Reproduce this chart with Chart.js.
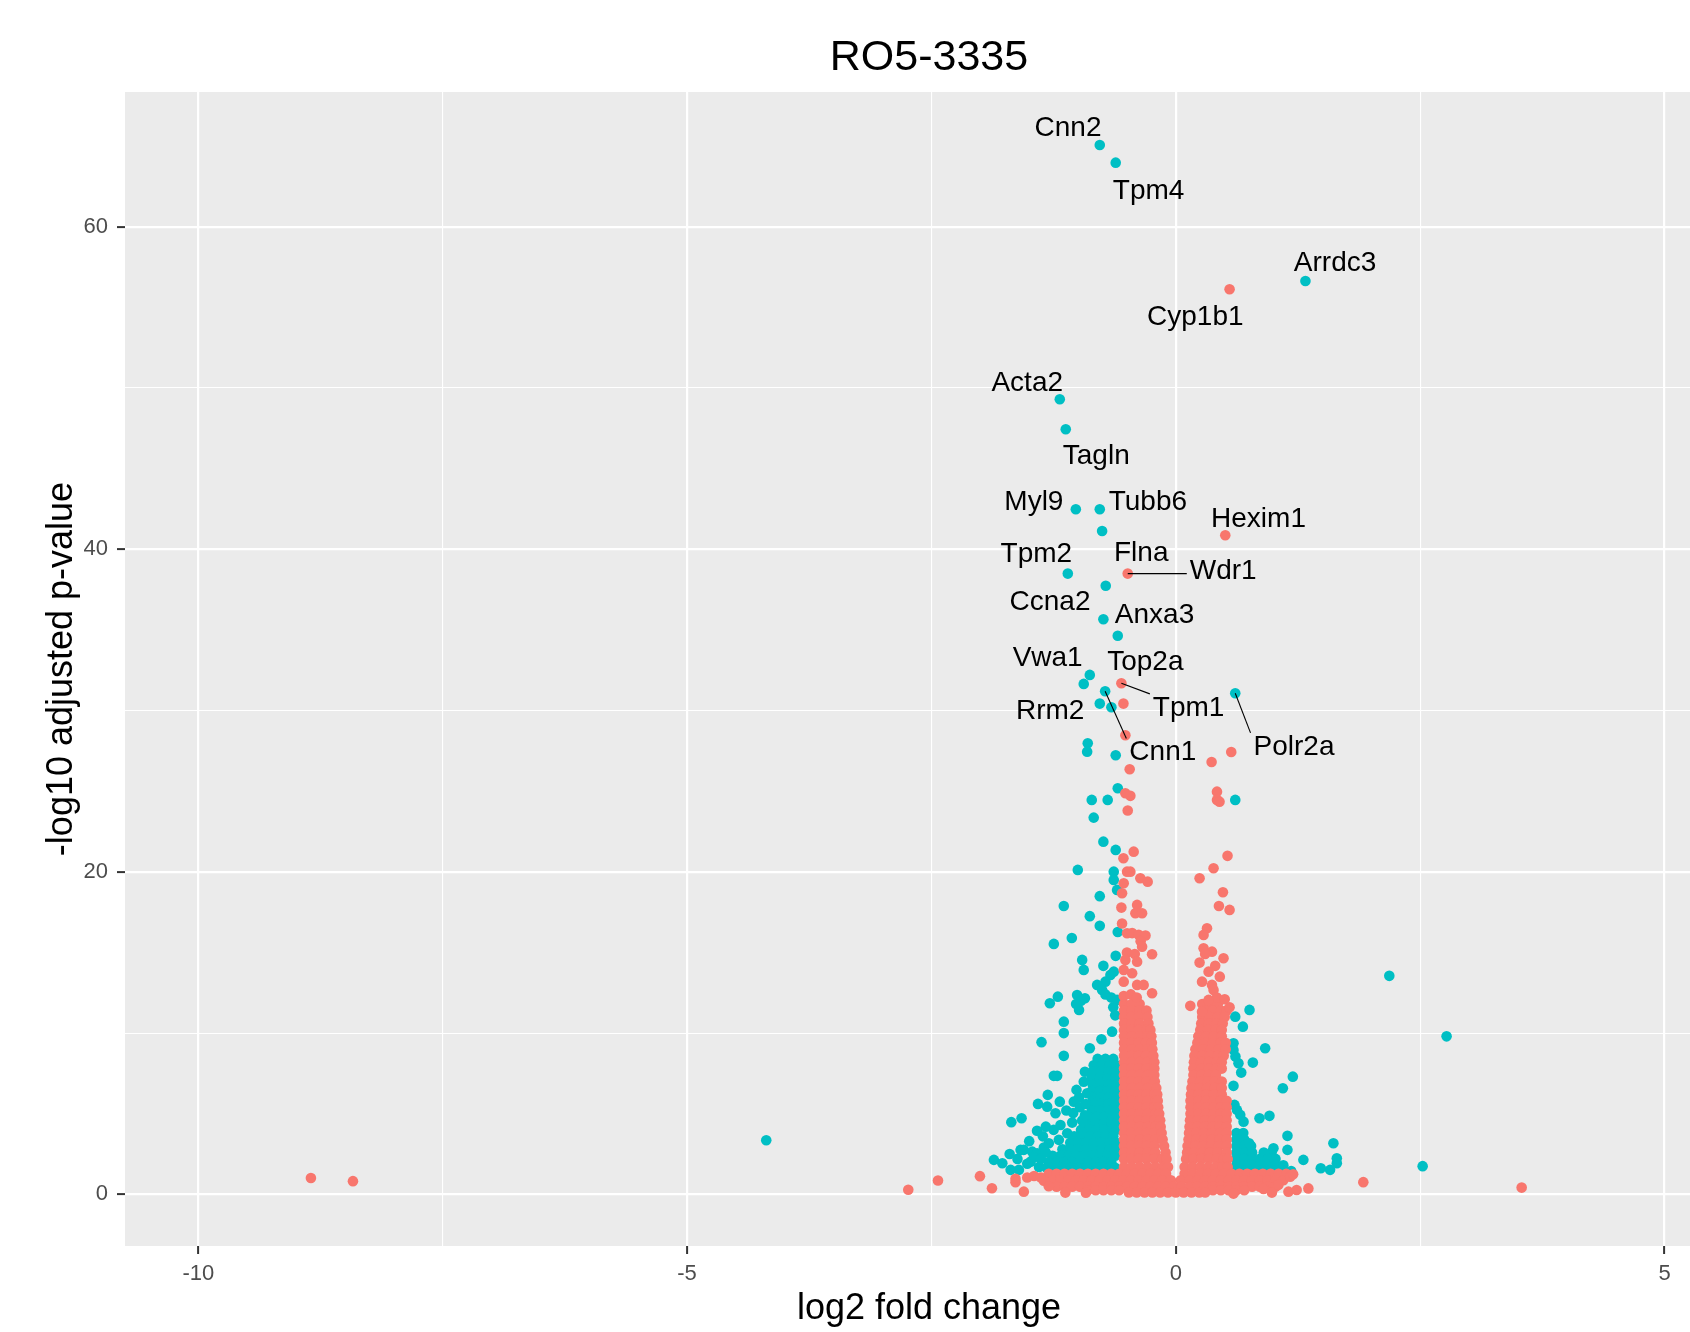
<!DOCTYPE html>
<html>
<head>
<meta charset="utf-8">
<title>RO5-3335</title>
<script src="https://cdn.jsdelivr.net/npm/chart.js@4.4.1/dist/chart.umd.min.js"></script>
<style>
  html, body { margin: 0; padding: 0; background: #ffffff; }
  #wrap { width: 1690px; height: 1332px; overflow: hidden; position: relative; }
  #volcano { display: block; }
</style>
</head>
<body>
<div id="wrap"><canvas id="volcano" width="1745" height="1332"></canvas></div>
<script>
// labelled genes: point (log2 fold change, -log10 padj) and where the text sits
const geneNames = ['Cnn2', 'Tpm4', 'Arrdc3', 'Cyp1b1', 'Acta2', 'Tagln', 'Myl9', 'Tubb6', 'Hexim1', 'Tpm2',
  'Flna', 'Wdr1', 'Ccna2', 'Anxa3', 'Vwa1', 'Top2a', 'Tpm1', 'Rrm2', 'Cnn1', 'Polr2a'];
const geneX = [-0.778, -0.615, 1.326, 0.55, -1.187, -1.126, -1.023, -0.778, 0.506, -1.105,
  -0.754, -0.492, -0.717, -0.741, -0.880, -0.594, -0.557, -0.778, -0.723, 0.608];
const geneY = [65.06, 63.97, 56.63, 56.12, 49.30, 47.44, 42.48, 42.48, 40.87, 38.49,
  41.13, 38.49, 37.74, 35.66, 32.21, 34.64, 31.69, 30.43, 31.20, 31.07];
const geneSig = [true, true, true, false, true, true, true, true, false, true,
  true, false, true, true, true, true, false, true, true, true];
const labelX = [-1.103, -0.278, 1.629, 0.199, -1.52, -0.814, -1.452, -0.286, 0.846, -1.427,
  -0.354, 0.485, -1.287, -0.218, -1.311, -0.312, 0.131, -1.285, -0.133, 1.209];
const labelY = [66.3, 62.36, 57.94, 54.56, 50.5, 45.95, 43.09, 43.09, 42.05, 39.87,
  39.93, 38.85, 36.89, 36.1, 33.4, 33.17, 30.35, 30.17, 27.58, 27.93];

// significant genes (cyan), isolated points [x, y]
const sigLoose = [
  [-0.942, 31.65], [-0.659, 30.2], [-0.901, 27.97], [-0.907, 27.45], [-0.615, 27.23], [-0.594, 25.18],
  [-0.86, 24.46], [-0.697, 24.46], [-0.84, 23.36], [-0.741, 21.87], [-0.615, 21.36], [-1.003, 20.12],
  [-0.635, 20.01], [-0.635, 19.5], [-0.601, 18.88], [-0.778, 18.49], [-1.146, 17.88], [-0.88, 17.25],
  [-0.778, 16.65], [-0.594, 16.27], [-1.064, 15.9], [-1.248, 15.53], [-0.615, 14.79], [-0.958, 14.54],
  [-0.942, 13.92], [-0.741, 14.17], [-0.635, 13.81], [-0.669, 13.61], [-0.72, 13.19], [-0.805, 12.99],
  [-0.754, 12.68], [-0.72, 12.4], [-0.66, 12.2], [-0.601, 12.06], [-0.64, 11.6], [-0.62, 11.1],
  [-1.289, 11.85], [-1.207, 12.26], [-1.01, 12.36], [-0.93, 12.16], [-0.97, 12.0], [-1.02, 11.8], [-0.99, 11.43],
  [-1.146, 10.71], [-1.146, 10.0], [-1.374, 9.44], [-1.146, 8.59], [-0.88, 9.06], [-0.761, 9.62], [-0.652, 10.09],
  [-1.248, 7.35], [-1.214, 7.35], [-0.942, 6.99], [-1.016, 6.48], [-0.907, 6.27], [-1.044, 5.75],
  [-1.31, 6.17], [-1.41, 5.61], [-1.316, 5.44], [-1.187, 5.75], [-1.231, 5.03], [-1.683, 4.48], [-1.578, 4.72],
  [-1.06, 4.45], [-0.958, 4.58], [-1.299, 3.17], [-1.197, 3.38], [-1.111, 3.79], [-1.555, 2.76], [-1.469, 2.65],
  [-1.418, 2.55], [-1.486, 2.03], [-1.861, 2.14], [-1.775, 1.93], [-1.69, 1.52], [-1.605, 1.52], [-1.588, 2.76],
  [-1.40, 1.7], [-1.45, 2.3], [-1.36, 3.6], [-1.42, 3.95], [-1.50, 3.3], [-1.33, 4.2], [-1.25, 4.0],
  [-1.18, 4.3], [-1.12, 5.2], [-1.05, 5.05], [-0.98, 5.4], [-0.99, 6.0], [-1.35, 2.9], [-1.62, 2.2],
  [-1.70, 2.5], [-1.52, 1.9], [-1.38, 2.2], [-1.33, 2.6], [-0.93, 7.6], [-0.92, 5.6], [-0.93, 4.9],
  [-4.19, 3.36],
  [0.608, 24.46], [0.608, 11.02], [0.686, 10.4], [0.754, 11.44], [0.59, 9.37], [0.59, 8.96], [0.61, 8.55],
  [0.641, 8.13], [0.914, 9.06], [0.788, 8.17], [0.669, 7.55], [0.59, 6.73], [1.197, 7.3], [1.095, 6.58],
  [0.6, 5.55], [0.625, 5.24], [0.659, 4.93], [0.693, 4.51], [0.856, 4.72], [0.958, 4.87], [0.75, 3.17],
  [1.142, 3.63], [1.142, 2.76], [0.999, 2.86], [1.305, 2.14], [1.483, 1.62], [1.578, 1.52], [1.612, 3.17],
  [1.647, 2.24], [1.647, 1.93], [2.184, 13.55], [2.77, 9.8], [2.525, 1.75]
];

// significant genes, dense part: [y, x, x, ...]
const sigRows = [
  [8.4, -0.80, -0.72, -0.64],
  [8.0, -0.84, -0.76, -0.68, -0.61],
  [7.6, -0.85, -0.77, -0.69, -0.61],
  [7.2, -0.86, -0.78, -0.70, -0.62],
  [6.8, -0.85, -0.77, -0.69, -0.61],
  [6.4, -0.86, -0.78, -0.70, -0.62],
  [6.0, -0.85, -0.77, -0.69, -0.61],
  [5.6, -0.85, -0.77, -0.69, -0.61],
  [5.2, -0.86, -0.78, -0.70, -0.62],
  [4.8, -0.89, -0.81, -0.73, -0.65, -0.61],
  [4.4, -0.90, -0.82, -0.74, -0.66, -0.61],
  [4.0, -0.97, -0.89, -0.81, -0.73, -0.65, -0.61],
  [3.6, -1.04, -0.96, -0.88, -0.80, -0.72, -0.64],
  [3.2, -1.08, -1.00, -0.92, -0.84, -0.76, -0.68, -0.61],
  [2.8, -1.16, -1.08, -1.00, -0.92, -0.84, -0.76, -0.68, -0.61],
  [2.4, -1.26, -1.18, -1.10, -1.02, -0.94, -0.86, -0.78, -0.70, -0.62],
  [2.0, -1.30, -1.22, -1.14, -1.06, -0.98, -0.90, -0.82, -0.74, -0.66],
  [1.65, -1.32, -1.24, -1.16, -1.08, -1.00, -0.92, -0.84, -0.76, -0.68, -0.62],
  [1.4, -1.26, -1.18, -1.10, -1.02, -0.94, -0.86, -0.78, -0.70, -0.62],
  [3.8, 0.62, 0.69],
  [3.4, 0.62, 0.70],
  [3.0, 0.62, 0.70, 0.77],
  [2.6, 0.62, 0.70, 0.78, 0.90, 0.98],
  [2.2, 0.62, 0.70, 0.78, 0.86, 0.94, 1.02],
  [1.8, 0.62, 0.70, 0.78, 0.86, 0.94, 1.02, 1.10],
  [1.45, 0.62, 0.70, 0.78, 0.86, 0.94, 1.02, 1.10, 1.18]
];

// not significant genes (red), isolated points [x, y]
const nsLoose = [
  [-8.848, 1.02], [-8.418, 0.82], [-2.737, 0.29], [-2.433, 0.86], [-2.004, 1.13], [-1.881, 0.38],
  [-1.64, 0.97], [-1.64, 0.76], [-1.555, 0.17], [-1.52, 1.05], [-1.45, 1.14], [-1.38, 1.05], [-1.35, 0.85],
  [-1.30, 0.5], [-1.13, 0.11], [-0.92, 0.1],
  [0.59, 0.05], [0.897, 0.34], [0.983, 0.11], [1.05, 0.59], [1.152, 0.17], [1.17, 1.1], [1.20, 1.25],
  [1.236, 0.27], [1.356, 0.37], [1.918, 0.76], [3.538, 0.42],
  [-0.536, 30.43], [-0.516, 28.47], [-0.472, 26.36], [-0.516, 24.87], [-0.465, 24.71], [-0.492, 23.8],
  [-0.431, 21.25], [-0.536, 20.84], [-0.499, 20.01], [-0.465, 20.01], [-0.533, 19.29], [-0.363, 19.6],
  [-0.288, 19.39], [-0.55, 18.67], [-0.557, 17.78], [-0.396, 17.95], [-0.414, 17.43], [-0.345, 17.43],
  [-0.55, 16.8], [-0.499, 16.19], [-0.447, 16.2], [-0.38, 16.1], [-0.31, 16.05], [-0.36, 15.7],
  [-0.345, 15.36], [-0.243, 14.89], [-0.50, 15.0], [-0.42, 14.9], [-0.516, 14.54], [-0.396, 14.43],
  [-0.533, 13.92], [-0.447, 13.71], [-0.533, 13.19], [-0.396, 12.99], [-0.329, 12.99], [-0.243, 12.47],
  [-0.533, 12.3], [-0.46, 12.4], [-0.40, 12.2],
  [0.366, 26.81], [0.567, 27.43], [0.421, 24.97], [0.421, 24.46], [0.447, 24.35], [0.529, 20.99],
  [0.386, 20.22], [0.243, 19.6], [0.482, 18.73], [0.441, 17.88], [0.55, 17.64], [0.319, 16.5],
  [0.284, 16.09], [0.284, 15.26], [0.37, 15.05], [0.30, 14.9], [0.488, 14.64], [0.243, 14.37],
  [0.403, 14.17], [0.335, 13.81], [0.45, 13.5], [0.268, 13.19], [0.37, 12.99], [0.386, 12.68],
  [0.42, 12.2], [0.50, 12.1], [0.335, 12.06], [0.148, 11.69], [0.268, 11.33], [0.55, 11.6]
];

// not significant genes, dense part: [y, x, x, ...]
const nsRows = [
  [11.8, -0.53, -0.45, -0.37],
  [11.4, -0.53, -0.45, -0.37, -0.30],
  [11.0, -0.53, -0.455, -0.38, -0.29],
  [10.6, -0.53, -0.45, -0.37, -0.28],
  [10.2, -0.53, -0.455, -0.38, -0.30, -0.26],
  [9.8, -0.53, -0.45, -0.37, -0.29, -0.25],
  [9.4, -0.53, -0.455, -0.38, -0.305, -0.245],
  [9.0, -0.53, -0.45, -0.37, -0.29, -0.24],
  [8.6, -0.53, -0.455, -0.38, -0.305, -0.23],
  [8.2, -0.53, -0.45, -0.37, -0.29, -0.22],
  [7.8, -0.53, -0.455, -0.38, -0.30, -0.22],
  [7.4, -0.53, -0.45, -0.37, -0.29, -0.22],
  [7.0, -0.53, -0.455, -0.38, -0.30, -0.215],
  [6.6, -0.53, -0.45, -0.37, -0.29, -0.20],
  [6.2, -0.53, -0.455, -0.38, -0.30, -0.22, -0.19],
  [5.8, -0.53, -0.45, -0.37, -0.29, -0.21, -0.185],
  [5.4, -0.53, -0.455, -0.38, -0.30, -0.22, -0.18],
  [5.0, -0.53, -0.45, -0.37, -0.29, -0.21, -0.17],
  [4.6, -0.53, -0.455, -0.38, -0.30, -0.22, -0.16],
  [4.2, -0.53, -0.45, -0.37, -0.29, -0.21, -0.155],
  [3.8, -0.53, -0.455, -0.38, -0.30, -0.22, -0.145],
  [3.4, -0.53, -0.45, -0.37, -0.29, -0.21, -0.135],
  [3.0, -0.53, -0.455, -0.38, -0.30, -0.22, -0.12],
  [2.6, -0.53, -0.45, -0.37, -0.29, -0.21, -0.105],
  [2.2, -0.53, -0.455, -0.38, -0.30, -0.22, -0.14, -0.095],
  [1.7, -0.53, -0.45, -0.37, -0.29, -0.21, -0.13, -0.08],
  [11.8, 0.27, 0.35, 0.43],
  [11.4, 0.30, 0.38, 0.46, 0.52],
  [11.0, 0.27, 0.35, 0.43, 0.50],
  [10.6, 0.26, 0.34, 0.42, 0.48],
  [10.2, 0.25, 0.33, 0.41, 0.47],
  [9.8, 0.23, 0.31, 0.39, 0.47],
  [9.4, 0.22, 0.30, 0.38, 0.46, 0.51],
  [9.0, 0.20, 0.28, 0.36, 0.44, 0.51],
  [8.6, 0.19, 0.27, 0.35, 0.43, 0.49],
  [8.2, 0.185, 0.26, 0.34, 0.42, 0.47],
  [7.8, 0.18, 0.26, 0.34, 0.42, 0.47],
  [7.4, 0.18, 0.26, 0.34, 0.41],
  [7.0, 0.17, 0.25, 0.33, 0.40, 0.47],
  [6.6, 0.16, 0.24, 0.32, 0.40, 0.47],
  [6.2, 0.155, 0.23, 0.31, 0.39, 0.47],
  [5.8, 0.15, 0.23, 0.31, 0.39, 0.46, 0.52],
  [5.4, 0.15, 0.23, 0.31, 0.39, 0.46, 0.52],
  [5.0, 0.15, 0.23, 0.31, 0.39, 0.46, 0.52],
  [4.6, 0.145, 0.22, 0.30, 0.38, 0.45, 0.52],
  [4.2, 0.14, 0.22, 0.30, 0.38, 0.45, 0.52],
  [3.8, 0.135, 0.21, 0.29, 0.37, 0.45, 0.52],
  [3.4, 0.13, 0.21, 0.29, 0.37, 0.45, 0.52],
  [3.0, 0.12, 0.20, 0.28, 0.36, 0.44, 0.52],
  [2.6, 0.115, 0.19, 0.27, 0.35, 0.43, 0.52],
  [2.2, 0.105, 0.18, 0.26, 0.34, 0.42, 0.49, 0.53],
  [1.7, 0.09, 0.17, 0.25, 0.33, 0.41, 0.48, 0.53],
  [1.28, -1.30, -1.22, -1.14, -1.06, -0.98, -0.90, -0.82, -0.74, -0.66, -0.58, -0.50, -0.42, -0.34, -0.26, -0.18, -0.10,
    0.09, 0.17, 0.25, 0.33, 0.41, 0.49, 0.57, 0.65, 0.73, 0.81, 0.89, 0.97, 1.05, 1.13],
  [0.88, -1.26, -1.18, -1.10, -1.02, -0.94, -0.86, -0.78, -0.70, -0.62, -0.54, -0.46, -0.38, -0.30, -0.22, -0.14, -0.05,
    0.05, 0.14, 0.22, 0.30, 0.38, 0.46, 0.54, 0.62, 0.70, 0.78, 0.86, 0.94, 1.02, 1.10],
  [0.48, -1.22, -1.14, -1.06, -0.98, -0.90, -0.82, -0.74, -0.66, -0.58, -0.50, -0.42, -0.34, -0.26, -0.18, -0.10, -0.02,
    0.06, 0.14, 0.22, 0.30, 0.38, 0.46, 0.54, 0.62, 0.70, 0.78, 0.86, 0.94, 1.02],
  [0.26, -0.90, -0.82, -0.74, -0.66, -0.58, 0.38, 0.46, 0.54, 0.62, 0.70],
  [0.12, -0.48, -0.40, -0.32, -0.24, -0.16, -0.08, 0.0, 0.08, 0.16, 0.24, 0.30]
];

const xTickValues = [-10, -5, 0, 5];
const yTickValues = [0, 20, 40, 60];

const RED = '#F8766D';
const CYAN = '#00BFC4';
const FONT = '"Liberation Sans", Arial, Helvetica, sans-serif';

const rowsToPoints = rows => rows.flatMap(([yv, ...xs]) => xs.map(xv => ({ x: xv, y: yv })));
const pairsToPoints = pairs => pairs.map(([xv, yv]) => ({ x: xv, y: yv }));
const genePoints = sig => geneNames
  .map((_, i) => ({ x: geneX[i], y: geneY[i], sig: geneSig[i] }))
  .filter(p => p.sig === sig)
  .map(p => ({ x: p.x, y: p.y }));

const nsPoints = [...rowsToPoints(nsRows), ...pairsToPoints(nsLoose), ...genePoints(false)];
const sigPoints = [...rowsToPoints(sigRows), ...pairsToPoints(sigLoose), ...genePoints(true)];

// grey panel behind the grid, like theme_gray
const panelBackground = {
  id: 'panelBackground',
  beforeDraw(chart) {
    const { ctx, chartArea: a } = chart;
    ctx.save();
    ctx.fillStyle = '#FFFFFF';
    ctx.fillRect(0, 0, chart.width, chart.height);
    ctx.fillStyle = '#EBEBEB';
    ctx.fillRect(a.left, a.top, a.right - a.left, a.bottom - a.top);
    ctx.restore();
  }
};

// gene names with a leader line when the text got pushed away from its point
const geneLabels = {
  id: 'geneLabels',
  afterDatasetsDraw(chart) {
    const { ctx, scales: { x, y } } = chart;
    ctx.save();
    ctx.font = '28px ' + FONT;
    ctx.textAlign = 'center';
    ctx.textBaseline = 'middle';
    geneNames.forEach((name, i) => {
      const px = x.getPixelForValue(geneX[i]);
      const py = y.getPixelForValue(geneY[i]);
      const lx = x.getPixelForValue(labelX[i]);
      const ly = y.getPixelForValue(labelY[i]) + 2;
      const halfW = ctx.measureText(name).width / 2 + 3;
      const halfH = 13;
      const ex = Math.min(Math.max(px, lx - halfW), lx + halfW);
      const ey = Math.min(Math.max(py, ly - halfH), ly + halfH);
      if (Math.hypot(ex - px, ey - py) > 20) {
        ctx.beginPath();
        ctx.moveTo(px, py);
        ctx.lineTo(ex, ey);
        ctx.strokeStyle = '#000000';
        ctx.lineWidth = 1.1;
        ctx.stroke();
      }
      ctx.fillStyle = '#000000';
      ctx.fillText(name, lx, ly + 1);
    });
    ctx.restore();
  }
};

const isMajor = (v, list) => list.some(t => Math.abs(t - v) < 1e-6);

new Chart(document.getElementById('volcano'), {
  type: 'scatter',
  data: {
    datasets: [
      { label: 'FALSE', data: nsPoints, backgroundColor: RED, pointRadius: 5.3, pointBorderWidth: 0, borderWidth: 0 },
      { label: 'TRUE', data: sigPoints, backgroundColor: CYAN, pointRadius: 5.3, pointBorderWidth: 0, borderWidth: 0 }
    ]
  },
  options: {
    responsive: false,
    animation: false,
    events: [],
    layout: { padding: { left: 0, right: 12, top: 0, bottom: 0 } },
    plugins: {
      legend: { display: false },
      tooltip: { enabled: false },
      title: {
        display: true,
        text: 'RO5-3335',
        fullSize: false,
        color: '#000000',
        font: { family: FONT, size: 43, weight: 'normal' },
        padding: { top: 32.2, bottom: 8.2 }
      }
    },
    scales: {
      x: {
        type: 'linear',
        min: -10.75,
        max: 5.70,
        afterFit: s => { s.height = 86; },
        border: { display: false },
        grid: {
          color: '#FFFFFF',
          lineWidth: c => isMajor(c.tick.value, xTickValues) ? 2.2 : 1.1,
          tickLength: 8,
          tickWidth: 2,
          tickColor: c => isMajor(c.tick.value, xTickValues) ? '#333333' : 'rgba(0,0,0,0)'
        },
        ticks: {
          stepSize: 2.5,
          includeBounds: false,
          autoSkip: false,
          maxRotation: 0,
          padding: 6.5,
          color: '#4D4D4D',
          font: { family: FONT, size: 22 },
          callback: v => isMajor(v, xTickValues) ? String(v) : ''
        },
        title: {
          display: true,
          text: 'log2 fold change',
          color: '#000000',
          font: { family: FONT, size: 36 },
          padding: { top: 0, bottom: 1.2 }
        }
      },
      y: {
        type: 'linear',
        min: -3.2,
        max: 68.35,
        afterFit: s => { s.width = 125; },
        border: { display: false },
        grid: {
          color: '#FFFFFF',
          lineWidth: c => isMajor(c.tick.value, yTickValues) ? 2.2 : 1.1,
          tickLength: 8,
          tickWidth: 2,
          tickColor: c => isMajor(c.tick.value, yTickValues) ? '#333333' : 'rgba(0,0,0,0)'
        },
        ticks: {
          stepSize: 10,
          includeBounds: false,
          autoSkip: false,
          padding: 9,
          color: '#4D4D4D',
          font: { family: FONT, size: 22 },
          callback: v => isMajor(v, yTickValues) ? String(v) : ''
        },
        title: {
          display: true,
          text: '-log10 adjusted p-value',
          color: '#000000',
          font: { family: FONT, size: 36 },
          padding: { top: 40.5, bottom: 0 }
        }
      }
    }
  },
  plugins: [panelBackground, geneLabels]
});
</script>
</body>
</html>
